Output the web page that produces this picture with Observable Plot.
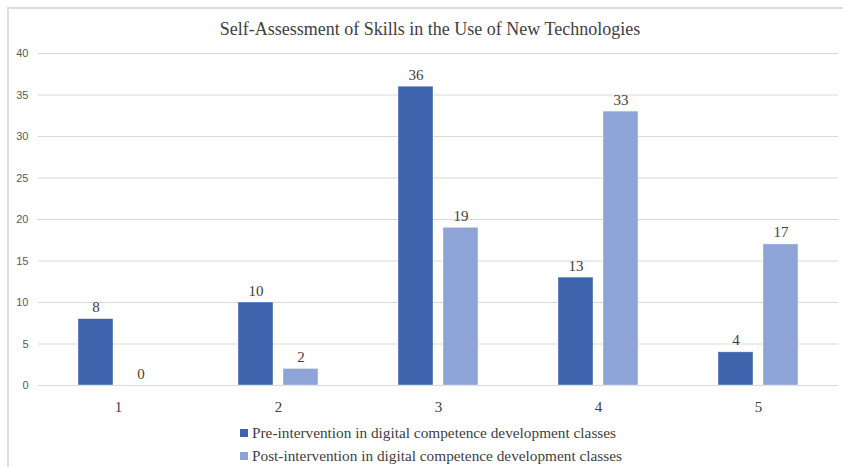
<!DOCTYPE html>
<html>
<head>
<meta charset="utf-8">
<script src="https://cdn.jsdelivr.net/npm/d3@7"></script>
<script src="https://cdn.jsdelivr.net/npm/@observablehq/plot@0.6"></script>
<style>
  html, body { margin: 0; padding: 0; background: #fff; overflow: hidden; }
  #wrap { position: relative; width: 843px; height: 467px; }
  #frame { position: absolute; left: 7px; top: 7px; width: 900px; height: 500px;
           border-left: 2px solid #dedede; border-top: 2px solid #dedede; }
  #title { position: absolute; left: 0; top: 18px; width: 860px; text-align: center;
           font-family: "Liberation Serif", "Times New Roman", serif; font-size: 18px; color: #404040; line-height: 22px; }
  #chart { position: absolute; left: 0; top: 44px; }
  #legend { position: absolute; left: 240px; top: 421px; font-family: "Liberation Serif", "Times New Roman", serif;
            font-size: 15.3px; color: #404040; line-height: 23px; }
  .sw { display: inline-block; width: 8px; height: 8px; margin-right: 4px; vertical-align: 1px; }
</style>
</head>
<body>
<div id="wrap">
  <div id="frame"></div>
  <div id="title">Self-Assessment of Skills in the Use of New Technologies</div>
  <div id="chart"></div>
  <div id="legend"></div>
</div>
<script>
const categories = ["1", "2", "3", "4", "5"];
const seriesNames = ["Pre-intervention in digital competence development classes",
                     "Post-intervention in digital competence development classes"];
const preValues = [8, 10, 36, 13, 4];
const postValues = [0, 2, 19, 33, 17];
const colors = ["#3d64ad", "#8fa4d6"];
const yTicks = [0, 5, 10, 15, 20, 25, 30, 35, 40];

const data = [];
categories.forEach((c, i) => {
  data.push({cat: c, series: seriesNames[0], value: preValues[i]});
  data.push({cat: c, series: seriesNames[1], value: postValues[i]});
});

const chart = Plot.plot({
  width: 843,
  height: 380,
  marginLeft: 38,
  marginRight: 5,
  marginTop: 9,
  marginBottom: 39,
  style: {background: "transparent", overflow: "visible"},
  fx: {domain: categories, padding: 0, label: null, axis: null},
  x: {domain: seriesNames, paddingInner: 0.217, paddingOuter: 0.848, axis: null},
  y: {domain: [0, 40], axis: null},
  color: {domain: seriesNames, range: colors},
  marks: [
    Plot.ruleY(yTicks, {stroke: "#d9d9d9", strokeWidth: 1}),
    Plot.barY(data, {fx: "cat", x: "series", y: "value", fill: "series",
                     stroke: "#ffffff", strokeOpacity: 0.5, strokeWidth: 0.8}),
    Plot.text(data, {fx: "cat", x: "series", y: "value", text: d => String(d.value),
                     dy: -7, lineAnchor: "bottom", fill: "#404040",
                     fontFamily: "Liberation Serif", fontSize: 15}),
    Plot.axisY({ticks: yTicks, tickSize: 0, tickPadding: 10, label: null,
                fontFamily: "Liberation Sans", fontSize: 11, color: "#595959",
                facetAnchor: "left"}),
    Plot.axisFx({domain: categories, anchor: "bottom", tickSize: 0, tickPadding: 16, label: null,
                 fontFamily: "Liberation Serif", fontSize: 15, color: "#404040"})
  ]
});
document.getElementById("chart").appendChild(chart);

const legend = document.getElementById("legend");
seriesNames.forEach((name, i) => {
  const row = document.createElement("div");
  const sw = document.createElement("span");
  sw.className = "sw";
  sw.style.background = colors[i];
  row.appendChild(sw);
  row.appendChild(document.createTextNode(name));
  legend.appendChild(row);
});
</script>
</body>
</html>
